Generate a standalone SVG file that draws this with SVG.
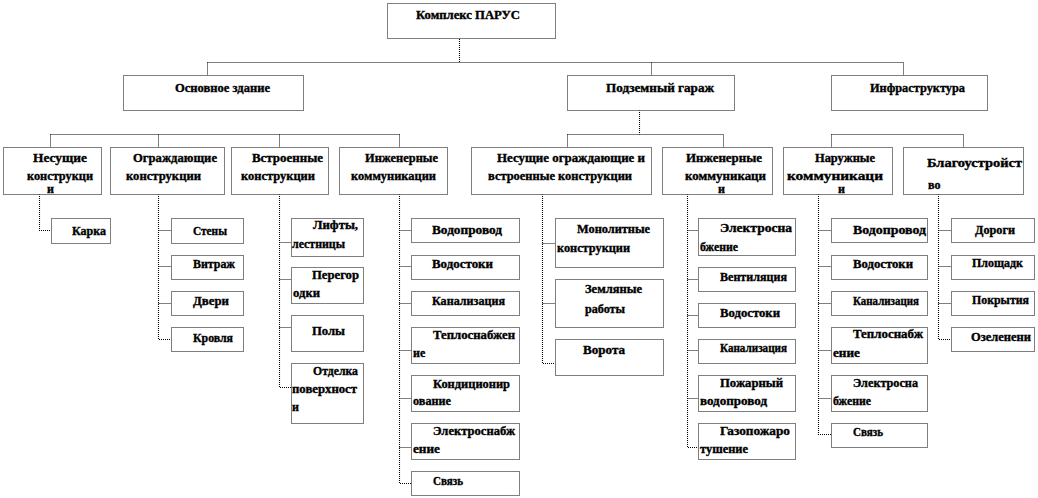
<svg xmlns="http://www.w3.org/2000/svg" width="1038" height="498" viewBox="0 0 1038 498" font-family="'Liberation Serif', 'DejaVu Serif', serif">
<style>
.box{fill:#fff;stroke:#000;stroke-width:1.1;stroke-dasharray:1 1}
.conn{fill:none;stroke:#000;stroke-width:1.1;stroke-dasharray:1 1}
text{font-family:'Liberation Serif','DejaVu Serif',serif;font-weight:bold;font-size:12px;fill:#000;stroke:#000;stroke-width:0.35}
</style>
<rect width="1038" height="498" fill="#fff"/>
<g id="connectors">
<path class="conn" d="M459.5,39V62.5M207.5,62.5H903.5M207.5,62.5V75M651.5,62.5V75M903.5,62.5V75"/>
<path class="conn" d="M639.5,110V134.5"/>
<path class="conn" d="M50.5,134.5H399.5M50.5,134.5V147M158.5,134.5V147M279.5,134.5V147M399.5,134.5V147"/>
<path class="conn" d="M567.5,134.5H723.5M567.5,134.5V147M723.5,134.5V147"/>
<path class="conn" d="M831.5,134.5H963.5M831.5,134.5V147M963.5,134.5V147"/>
<path class="conn" d="M39.5,194V230.5H51"/>
<path class="conn" d="M158.5,194V339.5H171M158.5,230.5H171M158.5,266.5H171M158.5,303.5H171"/>
<path class="conn" d="M279.5,194V387.5H291M279.5,242.5H291M279.5,279.5H291M279.5,327.5H291"/>
<path class="conn" d="M399.5,194V483.5H411M399.5,230.5H411M399.5,266.5H411M399.5,303.5H411M399.5,350.5H411M399.5,398.5H411M399.5,447.5H411"/>
<path class="conn" d="M542.5,194V363.5H555M542.5,243.5H555M542.5,303.5H555"/>
<path class="conn" d="M687.5,194V447.5H698M687.5,230.5H698M687.5,279.5H698M687.5,315.5H698M687.5,350.5H698M687.5,398.5H698"/>
<path class="conn" d="M818.5,194V434.5H831M818.5,230.5H831M818.5,266.5H831M818.5,303.5H831M818.5,350.5H831M818.5,398.5H831"/>
<path class="conn" d="M938.5,194V339.5H951M938.5,230.5H951M938.5,266.5H951M938.5,303.5H951"/>
</g>
<g id="root"><rect class="box" x="387.5" y="3.5" width="168" height="35"/><text x="416" y="19" textLength="104" lengthAdjust="spacingAndGlyphs">Комплекс ПАРУС</text></g>
<g id="main"><rect class="box" x="123.5" y="75.5" width="180" height="35"/><text x="175" y="92" textLength="95" lengthAdjust="spacingAndGlyphs">Основное здание</text></g>
<g id="garage"><rect class="box" x="567.5" y="75.5" width="167" height="35"/><text x="606" y="92" textLength="108" lengthAdjust="spacingAndGlyphs">Подземный  гараж</text></g>
<g id="infra"><rect class="box" x="831.5" y="75.5" width="156" height="35"/><text x="870" y="92" textLength="95" lengthAdjust="spacingAndGlyphs">Инфраструктура</text></g>

<g id="main-bearing"><rect class="box" x="3.5" y="147.5" width="98" height="47"/><text x="33" y="162" textLength="54" lengthAdjust="spacingAndGlyphs">Несущие</text><text x="27" y="180" textLength="66" lengthAdjust="spacingAndGlyphs">конструкци</text><text x="47" y="193">и</text></g>
<g id="main-enclosing"><rect class="box" x="110.5" y="147.5" width="114" height="47"/><text x="133" y="162" textLength="84" lengthAdjust="spacingAndGlyphs">Ограждающие</text><text x="126" y="180" textLength="75" lengthAdjust="spacingAndGlyphs">конструкции</text></g>
<g id="main-builtin"><rect class="box" x="231.5" y="147.5" width="97" height="47"/><text x="252" y="162" textLength="71" lengthAdjust="spacingAndGlyphs">Встроенные</text><text x="241" y="180" textLength="74" lengthAdjust="spacingAndGlyphs">конструкции</text></g>
<g id="main-eng"><rect class="box" x="339.5" y="147.5" width="108" height="47"/><text x="365" y="162" textLength="73" lengthAdjust="spacingAndGlyphs">Инженерные</text><text x="351" y="180" textLength="85" lengthAdjust="spacingAndGlyphs">коммуникации</text></g>
<g id="garage-struct"><rect class="box" x="471.5" y="147.5" width="180" height="47"/><text x="497" y="162" textLength="148" lengthAdjust="spacingAndGlyphs">Несущие ограждающие и</text><text x="488" y="180" textLength="144" lengthAdjust="spacingAndGlyphs">встроенные конструкции</text></g>
<g id="garage-eng"><rect class="box" x="662.5" y="147.5" width="110" height="47"/><text x="686" y="162" textLength="76" lengthAdjust="spacingAndGlyphs">Инженерные</text><text x="685" y="180" textLength="81" lengthAdjust="spacingAndGlyphs">коммуникаци</text><text x="718" y="193">и</text></g>
<g id="infra-outer"><rect class="box" x="783.5" y="147.5" width="109" height="47"/><text x="815" y="162" textLength="60" lengthAdjust="spacingAndGlyphs">Наружные</text><text x="787" y="180" textLength="96" lengthAdjust="spacingAndGlyphs">коммуникаци</text><text x="838" y="193">и</text></g>
<g id="infra-landscape"><rect class="box" x="903.5" y="147.5" width="120" height="47"/><text x="927" y="167" textLength="95" lengthAdjust="spacingAndGlyphs">Благоустройст</text><text x="928" y="189">во</text></g>

<g id="n-karkas"><rect class="box" x="51.5" y="218.5" width="59" height="25"/><text x="72" y="235" textLength="34" lengthAdjust="spacingAndGlyphs">Карка</text></g>
<g id="n-steny"><rect class="box" x="171.5" y="218.5" width="72" height="25"/><text x="193" y="235" textLength="34" lengthAdjust="spacingAndGlyphs">Стены</text></g>
<g id="n-vitrazh"><rect class="box" x="171.5" y="255.5" width="72" height="24"/><text x="193" y="268" textLength="42" lengthAdjust="spacingAndGlyphs">Витраж</text></g>
<g id="n-dveri"><rect class="box" x="171.5" y="291.5" width="72" height="24"/><text x="193" y="305" textLength="36" lengthAdjust="spacingAndGlyphs">Двери</text></g>
<g id="n-krovlya"><rect class="box" x="171.5" y="327.5" width="72" height="24"/><text x="193" y="342" textLength="40" lengthAdjust="spacingAndGlyphs">Кровля</text></g>

<g id="n-lifts"><rect class="box" x="291.5" y="218.5" width="72" height="38"/><text x="313" y="229" textLength="45" lengthAdjust="spacingAndGlyphs">Лифты,</text><text x="292" y="248" textLength="53" lengthAdjust="spacingAndGlyphs">лестницы</text></g>
<g id="n-peregorodki"><rect class="box" x="291.5" y="267.5" width="72" height="36"/><text x="312" y="279" textLength="47" lengthAdjust="spacingAndGlyphs">Перегор</text><text x="293" y="297" textLength="27" lengthAdjust="spacingAndGlyphs">одки</text></g>
<g id="n-poly"><rect class="box" x="291.5" y="315.5" width="72" height="36"/><text x="312" y="335" textLength="33" lengthAdjust="spacingAndGlyphs">Полы</text></g>
<g id="n-otdelka"><rect class="box" x="291.5" y="363.5" width="72" height="60"/><text x="313" y="375" textLength="45" lengthAdjust="spacingAndGlyphs">Отделка</text><text x="292" y="393" textLength="65" lengthAdjust="spacingAndGlyphs">поверхност</text><text x="292" y="411">и</text></g>

<g id="n-m-vodoprovod"><rect class="box" x="411.5" y="218.5" width="108" height="24"/><text x="432" y="234" textLength="70" lengthAdjust="spacingAndGlyphs">Водопровод</text></g>
<g id="n-m-vodostoki"><rect class="box" x="411.5" y="255.5" width="108" height="24"/><text x="432" y="268" textLength="61" lengthAdjust="spacingAndGlyphs">Водостоки</text></g>
<g id="n-m-kanal"><rect class="box" x="411.5" y="291.5" width="108" height="24"/><text x="432" y="305" textLength="73" lengthAdjust="spacingAndGlyphs">Канализация</text></g>
<g id="n-m-teplo"><rect class="box" x="411.5" y="327.5" width="108" height="36"/><text x="433" y="339" textLength="82" lengthAdjust="spacingAndGlyphs">Теплоснабжен</text><text x="413" y="357">ие</text></g>
<g id="n-m-kond"><rect class="box" x="411.5" y="375.5" width="108" height="36"/><text x="433" y="388" textLength="77" lengthAdjust="spacingAndGlyphs">Кондиционир</text><text x="413" y="405" textLength="38" lengthAdjust="spacingAndGlyphs">ование</text></g>
<g id="n-m-elektro"><rect class="box" x="411.5" y="423.5" width="108" height="36"/><text x="433" y="435" textLength="82" lengthAdjust="spacingAndGlyphs">Электроснабж</text><text x="413" y="453" textLength="27" lengthAdjust="spacingAndGlyphs">ение</text></g>
<g id="n-m-svyaz"><rect class="box" x="411.5" y="471.5" width="108" height="24"/><text x="433" y="485" textLength="30" lengthAdjust="spacingAndGlyphs">Связь</text></g>

<g id="n-monolit"><rect class="box" x="555.5" y="218.5" width="108" height="49"/><text x="577" y="233" textLength="73" lengthAdjust="spacingAndGlyphs">Монолитные</text><text x="557" y="252" textLength="73" lengthAdjust="spacingAndGlyphs">конструкции</text></g>
<g id="n-zemlya"><rect class="box" x="555.5" y="279.5" width="108" height="48"/><text x="585" y="293" textLength="57" lengthAdjust="spacingAndGlyphs">Земляные</text><text x="585" y="313" textLength="40" lengthAdjust="spacingAndGlyphs">работы</text></g>
<g id="n-vorota"><rect class="box" x="555.5" y="339.5" width="108" height="36"/><text x="583" y="354" textLength="42" lengthAdjust="spacingAndGlyphs">Ворота</text></g>

<g id="n-g-elektro"><rect class="box" x="698.5" y="218.5" width="97" height="37"/><text x="720" y="232" textLength="72" lengthAdjust="spacingAndGlyphs">Электросна</text><text x="700" y="251" textLength="38" lengthAdjust="spacingAndGlyphs">бжение</text></g>
<g id="n-g-vent"><rect class="box" x="698.5" y="267.5" width="97" height="24"/><text x="720" y="281" textLength="67" lengthAdjust="spacingAndGlyphs">Вентиляция</text></g>
<g id="n-g-vodostoki"><rect class="box" x="698.5" y="303.5" width="97" height="24"/><text x="720" y="317" textLength="60" lengthAdjust="spacingAndGlyphs">Водостоки</text></g>
<g id="n-g-kanal"><rect class="box" x="698.5" y="339.5" width="97" height="24"/><text x="720" y="352" textLength="67" lengthAdjust="spacingAndGlyphs">Канализация</text></g>
<g id="n-g-pozhar"><rect class="box" x="698.5" y="375.5" width="97" height="36"/><text x="720" y="387" textLength="63" lengthAdjust="spacingAndGlyphs">Пожарный</text><text x="700" y="405" textLength="67" lengthAdjust="spacingAndGlyphs">водопровод</text></g>
<g id="n-g-gaz"><rect class="box" x="698.5" y="423.5" width="97" height="36"/><text x="720" y="435" textLength="70" lengthAdjust="spacingAndGlyphs">Газопожаро</text><text x="700" y="453" textLength="48" lengthAdjust="spacingAndGlyphs">тушение</text></g>

<g id="n-i-vodoprovod"><rect class="box" x="831.5" y="218.5" width="96" height="24"/><text x="853" y="234" textLength="73" lengthAdjust="spacingAndGlyphs">Водопровод</text></g>
<g id="n-i-vodostoki"><rect class="box" x="831.5" y="255.5" width="96" height="24"/><text x="853" y="268" textLength="60" lengthAdjust="spacingAndGlyphs">Водостоки</text></g>
<g id="n-i-kanal"><rect class="box" x="831.5" y="291.5" width="96" height="24"/><text x="853" y="305" textLength="66" lengthAdjust="spacingAndGlyphs">Канализация</text></g>
<g id="n-i-teplo"><rect class="box" x="831.5" y="327.5" width="96" height="36"/><text x="853" y="338" textLength="70" lengthAdjust="spacingAndGlyphs">Теплоснабж</text><text x="833" y="357" textLength="27" lengthAdjust="spacingAndGlyphs">ение</text></g>
<g id="n-i-elektro"><rect class="box" x="831.5" y="375.5" width="96" height="36"/><text x="853" y="387" textLength="65" lengthAdjust="spacingAndGlyphs">Электросна</text><text x="833" y="405" textLength="38" lengthAdjust="spacingAndGlyphs">бжение</text></g>
<g id="n-i-svyaz"><rect class="box" x="831.5" y="423.5" width="96" height="24"/><text x="853" y="436" textLength="30" lengthAdjust="spacingAndGlyphs">Связь</text></g>

<g id="n-dorogi"><rect class="box" x="951.5" y="218.5" width="83" height="24"/><text x="975" y="234" textLength="40" lengthAdjust="spacingAndGlyphs">Дороги</text></g>
<g id="n-ploshchadki"><rect class="box" x="951.5" y="255.5" width="83" height="24"/><text x="972" y="267" textLength="51" lengthAdjust="spacingAndGlyphs">Площадк</text></g>
<g id="n-pokrytiya"><rect class="box" x="951.5" y="291.5" width="83" height="24"/><text x="972" y="304" textLength="57" lengthAdjust="spacingAndGlyphs">Покрытия</text></g>
<g id="n-ozelenenie"><rect class="box" x="951.5" y="327.5" width="83" height="24"/><text x="971" y="341" textLength="60" lengthAdjust="spacingAndGlyphs">Озеленени</text></g>
</svg>
